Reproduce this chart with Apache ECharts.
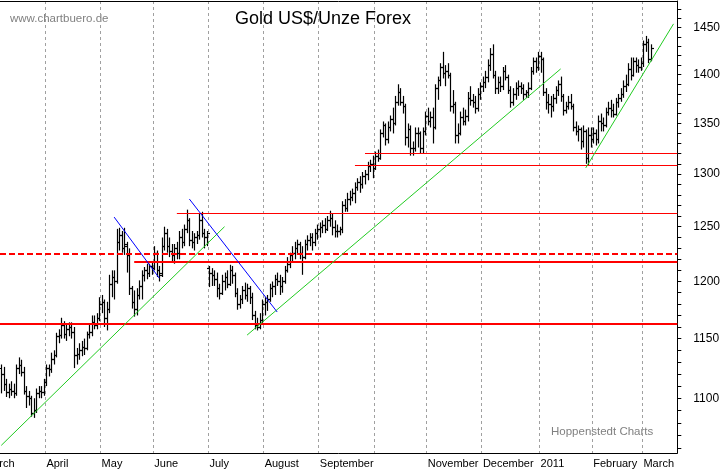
<!DOCTYPE html>
<html lang="de">
<head>
    <meta charset="utf-8"/>
    <title>Gold US$/Unze Forex</title>
    <script src="https://cdn.jsdelivr.net/npm/echarts@6.0.0/dist/echarts.min.js"></script>
    <style>
        html, body { margin: 0; padding: 0; background: #fff; }
        #chart { width: 723px; height: 470px; }
    </style>
</head>
<body>
<div id="chart"></div>
<script type="text/javascript">
    // daily bars [open, high, low, close], one array per month (March 2010 from the 8th)
    const mar10 = [
        [1125, 1128, 1104, 1120], [1120, 1126, 1106, 1112], [1112, 1116, 1101, 1105],
        [1105, 1112, 1100, 1108], [1108, 1114, 1102, 1106], [1106, 1112, 1100, 1104], [1104, 1128, 1102, 1125],
        [1125, 1134, 1120, 1128], [1128, 1132, 1118, 1122], [1122, 1126, 1103, 1106], [1106, 1110, 1092, 1102],
        [1102, 1106, 1094, 1100], [1100, 1102, 1085, 1088], [1088, 1100, 1084, 1090], [1090, 1108, 1088, 1104],
        [1104, 1110, 1100, 1106], [1106, 1110, 1100, 1105], [1105, 1116, 1102, 1113]
    ];
    const apr10 = [
        [1113, 1128, 1110, 1125], [1125, 1128, 1118, 1124], [1124, 1138, 1121, 1133], [1133, 1140, 1128, 1136],
        [1136, 1155, 1134, 1152], [1152, 1158, 1146, 1153], [1153, 1168, 1150, 1162], [1162, 1165, 1150, 1154],
        [1154, 1162, 1148, 1158], [1158, 1164, 1152, 1160], [1160, 1164, 1150, 1156], [1156, 1160, 1125, 1136],
        [1136, 1142, 1128, 1137], [1137, 1146, 1132, 1140], [1140, 1148, 1135, 1143], [1143, 1150, 1136, 1142],
        [1142, 1156, 1140, 1154], [1154, 1162, 1150, 1156], [1156, 1170, 1152, 1164], [1164, 1170, 1158, 1162],
        [1162, 1172, 1158, 1168], [1168, 1186, 1165, 1180]
    ];
    const may10 = [
        [1180, 1188, 1172, 1182], [1182, 1184, 1160, 1168], [1168, 1182, 1157, 1176], [1176, 1206, 1172, 1198],
        [1198, 1210, 1186, 1204], [1204, 1210, 1184, 1200], [1200, 1248, 1198, 1236], [1236, 1249, 1228, 1242],
        [1242, 1246, 1226, 1230], [1230, 1249, 1224, 1234], [1232, 1236, 1208, 1224], [1224, 1230, 1188, 1194],
        [1194, 1196, 1176, 1182], [1182, 1192, 1169, 1176], [1176, 1194, 1170, 1188], [1188, 1201, 1184, 1196],
        [1196, 1210, 1184, 1206], [1206, 1213, 1200, 1210], [1210, 1216, 1202, 1208], [1208, 1216, 1204, 1214],
        [1214, 1218, 1206, 1212]
    ];
    const jun10 = [
        [1212, 1232, 1210, 1226], [1226, 1228, 1204, 1210], [1210, 1214, 1200, 1206], [1208, 1240, 1204, 1232],
        [1232, 1250, 1228, 1244], [1244, 1248, 1226, 1232], [1232, 1240, 1222, 1228], [1228, 1234, 1218, 1224],
        [1224, 1234, 1216, 1230], [1230, 1236, 1220, 1226], [1226, 1246, 1220, 1240], [1240, 1248, 1230, 1236],
        [1236, 1252, 1232, 1248], [1248, 1266, 1244, 1256], [1256, 1258, 1232, 1238], [1238, 1246, 1230, 1236],
        [1236, 1244, 1228, 1240], [1240, 1246, 1234, 1242], [1242, 1262, 1238, 1256], [1256, 1264, 1240, 1244],
        [1244, 1248, 1230, 1240], [1240, 1246, 1232, 1244]
    ];
    const jul10 = [
        [1212, 1214, 1195, 1208], [1208, 1212, 1196, 1206], [1206, 1210, 1196, 1202], [1202, 1208, 1186, 1194],
        [1194, 1198, 1184, 1190], [1190, 1206, 1188, 1200], [1200, 1208, 1192, 1204], [1204, 1210, 1194, 1198],
        [1198, 1215, 1196, 1210], [1210, 1214, 1198, 1206], [1206, 1208, 1186, 1190], [1190, 1194, 1175, 1180],
        [1180, 1188, 1176, 1184], [1184, 1196, 1180, 1192], [1192, 1199, 1184, 1188], [1188, 1198, 1182, 1194],
        [1194, 1196, 1180, 1186], [1186, 1190, 1166, 1170], [1170, 1174, 1158, 1162], [1162, 1168, 1157, 1160],
        [1160, 1172, 1158, 1166], [1166, 1184, 1162, 1180]
    ];
    const aug10 = [
        [1180, 1186, 1170, 1182], [1182, 1188, 1174, 1184], [1184, 1198, 1182, 1194], [1194, 1200, 1186, 1196],
        [1196, 1206, 1188, 1202], [1202, 1208, 1196, 1200], [1200, 1206, 1188, 1196], [1196, 1204, 1190, 1200],
        [1200, 1214, 1198, 1210], [1210, 1222, 1208, 1216], [1216, 1226, 1212, 1224], [1224, 1232, 1218, 1226],
        [1226, 1236, 1220, 1230], [1230, 1238, 1224, 1234], [1234, 1236, 1220, 1226], [1226, 1232, 1206, 1222],
        [1222, 1238, 1220, 1234], [1234, 1242, 1228, 1238], [1238, 1244, 1232, 1240], [1240, 1244, 1228, 1236],
        [1236, 1248, 1232, 1244], [1244, 1252, 1238, 1248]
    ];
    const sep10 = [
        [1248, 1254, 1240, 1250], [1250, 1256, 1244, 1252], [1252, 1258, 1244, 1248], [1248, 1260, 1246, 1256],
        [1256, 1265, 1250, 1258], [1258, 1262, 1242, 1250], [1250, 1256, 1240, 1246], [1246, 1252, 1240, 1246],
        [1246, 1250, 1242, 1248], [1248, 1274, 1244, 1270], [1270, 1276, 1264, 1268], [1268, 1282, 1264, 1276],
        [1276, 1284, 1270, 1278], [1278, 1286, 1274, 1282], [1282, 1292, 1272, 1288], [1288, 1296, 1284, 1292],
        [1292, 1298, 1282, 1290], [1290, 1302, 1286, 1298], [1298, 1304, 1290, 1300], [1300, 1312, 1294, 1308],
        [1308, 1314, 1302, 1310], [1310, 1318, 1296, 1306]
    ];
    const oct10 = [
        [1306, 1322, 1304, 1318], [1318, 1324, 1312, 1316], [1316, 1344, 1314, 1340], [1340, 1352, 1336, 1348],
        [1348, 1350, 1328, 1334], [1334, 1352, 1330, 1346], [1346, 1358, 1342, 1354], [1354, 1366, 1340, 1350],
        [1350, 1378, 1348, 1372], [1372, 1390, 1368, 1382], [1382, 1386, 1368, 1372], [1372, 1378, 1360, 1368],
        [1368, 1370, 1328, 1336], [1336, 1350, 1326, 1344], [1344, 1348, 1318, 1326], [1326, 1332, 1318, 1326],
        [1326, 1346, 1322, 1340], [1340, 1346, 1326, 1340], [1340, 1342, 1320, 1326], [1326, 1346, 1320, 1342],
        [1342, 1362, 1338, 1358]
    ];
    const nov10 = [
        [1358, 1366, 1348, 1352], [1352, 1362, 1346, 1356], [1356, 1366, 1330, 1346], [1346, 1390, 1344, 1386],
        [1386, 1398, 1374, 1394], [1394, 1412, 1388, 1408], [1408, 1424, 1396, 1402], [1402, 1410, 1388, 1404],
        [1404, 1412, 1396, 1400], [1400, 1402, 1362, 1368], [1368, 1384, 1360, 1370], [1370, 1372, 1330, 1338],
        [1338, 1350, 1330, 1340], [1340, 1362, 1338, 1356], [1356, 1366, 1348, 1352], [1352, 1364, 1348, 1358],
        [1358, 1382, 1352, 1376], [1376, 1388, 1368, 1374], [1374, 1380, 1366, 1372], [1372, 1378, 1360, 1366],
        [1366, 1386, 1362, 1380], [1380, 1392, 1374, 1388]
    ];
    const dec10 = [
        [1388, 1398, 1382, 1392], [1392, 1404, 1386, 1398], [1398, 1416, 1392, 1410], [1410, 1428, 1404, 1422],
        [1422, 1432, 1396, 1400], [1400, 1404, 1380, 1386], [1386, 1398, 1380, 1392], [1392, 1398, 1382, 1388],
        [1388, 1408, 1384, 1404], [1404, 1410, 1394, 1398], [1398, 1400, 1380, 1384], [1384, 1388, 1366, 1372],
        [1372, 1386, 1368, 1380], [1380, 1392, 1374, 1386], [1386, 1394, 1378, 1388], [1388, 1392, 1380, 1386],
        [1386, 1390, 1374, 1380], [1380, 1384, 1376, 1382], [1382, 1392, 1376, 1386], [1386, 1408, 1384, 1404],
        [1404, 1418, 1400, 1414], [1414, 1418, 1402, 1408], [1408, 1424, 1404, 1420]
    ];
    const jan11 = [
        [1420, 1424, 1402, 1416], [1416, 1418, 1378, 1382], [1382, 1386, 1364, 1372], [1372, 1380, 1360, 1370],
        [1370, 1378, 1356, 1368], [1368, 1380, 1362, 1376], [1376, 1388, 1370, 1384], [1384, 1394, 1378, 1390],
        [1390, 1398, 1372, 1378], [1378, 1380, 1358, 1364], [1364, 1372, 1360, 1368], [1368, 1378, 1364, 1372],
        [1372, 1380, 1364, 1368], [1368, 1370, 1342, 1346], [1346, 1352, 1338, 1342], [1342, 1348, 1332, 1344],
        [1344, 1346, 1324, 1332], [1332, 1348, 1326, 1342], [1342, 1344, 1310, 1316], [1316, 1346, 1308, 1338],
        [1338, 1346, 1326, 1334]
    ];
    const feb11 = [
        [1334, 1346, 1330, 1340], [1340, 1344, 1328, 1334], [1334, 1358, 1330, 1352], [1352, 1360, 1342, 1350],
        [1350, 1356, 1342, 1348], [1348, 1366, 1346, 1362], [1362, 1372, 1358, 1366], [1366, 1374, 1356, 1364],
        [1364, 1370, 1356, 1360], [1360, 1376, 1358, 1372], [1372, 1380, 1366, 1376], [1376, 1386, 1372, 1380],
        [1380, 1394, 1376, 1388], [1388, 1400, 1382, 1390], [1390, 1412, 1388, 1406], [1406, 1418, 1394, 1400],
        [1400, 1418, 1398, 1414], [1414, 1418, 1402, 1410], [1410, 1416, 1402, 1408], [1408, 1418, 1404, 1412]
    ];
    const mar11 = [
        [1412, 1436, 1408, 1432], [1432, 1441, 1424, 1434], [1434, 1438, 1412, 1416], [1416, 1432, 1414, 1428]
    ];

    // support / resistance lines: [from, price, dashed, width]
    const levelLines = [
        ['2010-03-08', 1163, false, 2],
        ['2010-03-08', 1225, true, 2],
        ['2010-05-20', 1218, false, 2],
        ['2010-06-14', 1263, false, 1],
        ['2010-09-21', 1309, false, 1],
        ['2010-09-27', 1321, false, 1]
    ];
    const greenTrends = [
        [['2010-03-08', 1062], ['2010-07-09', 1250]],
        [['2010-07-22', 1153], ['2011-01-13', 1406]],
        [['2011-01-27', 1306], ['2011-03-17', 1454]]
    ];
    const blueTrends = [
        [['2010-05-10', 1259], ['2010-06-03', 1203]],
        [['2010-06-21', 1276], ['2010-08-09', 1173]]
    ];

    const priceLabels = [1100, 1150, 1200, 1250, 1300, 1350, 1400, 1450];
    const priceTicks = [
        1060, 1070, 1080, 1090, 1100, 1110, 1120, 1130, 1140, 1150, 1160, 1170, 1180, 1190,
        1200, 1210, 1220, 1230, 1240, 1250, 1260, 1270, 1280, 1290, 1300, 1310, 1320, 1330,
        1340, 1350, 1360, 1370, 1380, 1390, 1400, 1410, 1420, 1430, 1440, 1450, 1460, 1470
    ];
    const monthNames = ['2011', 'February', 'March', 'April', 'May', 'June', 'July',
        'August', 'September', '', 'November', 'December'];

    // forex trades every weekday
    const dates = [];
    for (let t = Date.UTC(2010, 2, 8); t <= Date.UTC(2011, 2, 18); t += 86400000) {
        const d = new Date(t);
        if (d.getUTCDay() > 0 && d.getUTCDay() < 6) dates.push(d.toISOString().slice(0, 10));
    }
    const monthStart = new Set();
    dates.forEach(function (d, i) {
        if (i > 0 && d.slice(0, 7) !== dates[i - 1].slice(0, 7)) monthStart.add(i);
    });
    const isMonday = function (i) {
        return new Date(dates[i] + 'T00:00:00Z').getUTCDay() === 1 && !monthStart.has(i);
    };

    const months = [
        ['2010-03', mar10], ['2010-04', apr10], ['2010-05', may10], ['2010-06', jun10],
        ['2010-07', jul10], ['2010-08', aug10], ['2010-09', sep10], ['2010-10', oct10],
        ['2010-11', nov10], ['2010-12', dec10], ['2011-01', jan11], ['2011-02', feb11], ['2011-03', mar11]
    ];
    const ohlc = [];
    months.forEach(function (m) {
        const start = dates.findIndex(function (d) { return d.slice(0, 7) === m[0]; });
        m[1].forEach(function (b, k) {
            ohlc.push([start + k, Math.log10(b[0]), Math.log10(b[1]), Math.log10(b[2]), Math.log10(b[3])]);
        });
    });

    const font = '"Liberation Sans", Arial, sans-serif';

    const lineSeries = function (seg, color) {
        return {
            type: 'line', xAxisIndex: 0, symbol: 'none', silent: true, z: 4,
            data: seg.map(function (p) { return [p[0], Math.log10(p[1])]; }),
            lineStyle: { color: color, width: 1 }
        };
    };

    const chart = echarts.init(document.getElementById('chart'));
    chart.setOption({
        animation: false,
        backgroundColor: '#fff',
        grid: { left: 0, right: 44, top: 1, bottom: 17 },
        graphic: [
            { type: 'text', left: 235, top: 10, style: { text: 'Gold US$/Unze Forex', font: '18px ' + font, fill: '#000' } },
            { type: 'text', left: 10, top: 13, style: { text: 'www.chartbuero.de', font: '11.5px ' + font, fill: '#808080' } },
            { type: 'text', left: 551, top: 426, style: { text: 'Hoppenstedt Charts', font: '11.5px ' + font, fill: '#808080' } },
            // March 2010 started before the visible window, its label is cut at the left edge
            { type: 'text', x: -16, y: 458, style: { text: 'March', font: '11px ' + font, fill: '#000' } }
        ],
        xAxis: [
            {
                type: 'category',
                data: dates,
                boundaryGap: true,
                axisLine: { lineStyle: { color: '#000', width: 1 } },
                axisTick: { interval: function (i) { return monthStart.has(i); }, length: 17, lineStyle: { color: '#000' } },
                axisLabel: {
                    interval: function (i) { return monthStart.has(i); },
                    formatter: function (v) { return monthNames[+v.slice(5, 7) - 1]; },
                    align: 'left', margin: 5, fontSize: 11, fontFamily: font, color: '#000'
                },
                splitLine: {
                    show: true,
                    interval: function (i) { return monthStart.has(i); },
                    lineStyle: { color: '#a0a0a0', type: [3, 3], width: 1 }
                }
            },
            {
                type: 'category',
                data: dates,
                boundaryGap: true,
                position: 'bottom',
                axisLine: { show: false },
                axisTick: { interval: isMonday, length: 5, lineStyle: { color: '#000' } },
                axisLabel: { show: false },
                splitLine: { show: false }
            },
            {
                type: 'category',
                data: dates,
                position: 'top',
                axisLine: { show: true, lineStyle: { color: '#000', width: 1 } },
                axisTick: { show: false },
                axisLabel: { show: false },
                splitLine: { show: false }
            }
        ],
        yAxis: {
            type: 'value',
            position: 'right',
            min: Math.log10(1056),
            max: Math.log10(1479),
            axisLine: { show: true, lineStyle: { color: '#000' } },
            axisTick: { show: true, length: 4, customValues: priceTicks.map(Math.log10), lineStyle: { color: '#000' } },
            axisLabel: {
                customValues: priceLabels.map(Math.log10),
                formatter: function (v) { return Math.round(Math.pow(10, v)); },
                margin: 16, fontSize: 12, fontFamily: font, color: '#000'
            },
            splitLine: { show: false }
        },
        series: [
            {
                type: 'custom',
                xAxisIndex: 0,
                z: 2,
                silent: true,
                data: ohlc,
                encode: { x: 0, y: [1, 2, 3, 4] },
                renderItem: function (params, api) {
                    const i = api.value(0);
                    const o = api.coord([i, api.value(1)]);
                    const h = api.coord([i, api.value(2)]);
                    const l = api.coord([i, api.value(3)]);
                    const c = api.coord([i, api.value(4)]);
                    const x = Math.round(o[0]) + 0.5;
                    const yo = Math.round(o[1]) + 0.5;
                    const yc = Math.round(c[1]) + 0.5;
                    const st = { stroke: '#000', lineWidth: 1.2 };
                    return {
                        type: 'group', children: [
                            { type: 'line', shape: { x1: x, y1: h[1], x2: x, y2: l[1] }, style: st },
                            { type: 'line', shape: { x1: x - 2.5, y1: yo, x2: x, y2: yo }, style: st },
                            { type: 'line', shape: { x1: x, y1: yc, x2: x + 2.5, y2: yc }, style: st }
                        ]
                    };
                }
            },
            {
                type: 'custom',
                xAxisIndex: 0,
                z: 3,
                silent: true,
                data: levelLines.map(function (l) { return [dates.indexOf(l[0]), Math.log10(l[1]), l[2] ? 1 : 0, l[3]]; }),
                encode: { x: 0, y: 1 },
                renderItem: function (params, api) {
                    const p = api.coord([api.value(0), api.value(1)]);
                    const cs = params.coordSys;
                    const x0 = api.value(0) === 0 ? cs.x : p[0];
                    const w = api.value(3);
                    const y = w === 1 ? Math.round(p[1]) + 0.5 : Math.round(p[1]);
                    return {
                        type: 'line',
                        shape: { x1: x0, y1: y, x2: cs.x + cs.width, y2: y },
                        style: { stroke: '#ff0000', lineWidth: w, lineDash: api.value(2) ? [6, 3] : null }
                    };
                }
            }
        ].concat(greenTrends.map(function (s) { return lineSeries(s, '#22cc22'); }))
         .concat(blueTrends.map(function (s) { return lineSeries(s, '#0000ff'); }))
    });
</script>
</body>
</html>
